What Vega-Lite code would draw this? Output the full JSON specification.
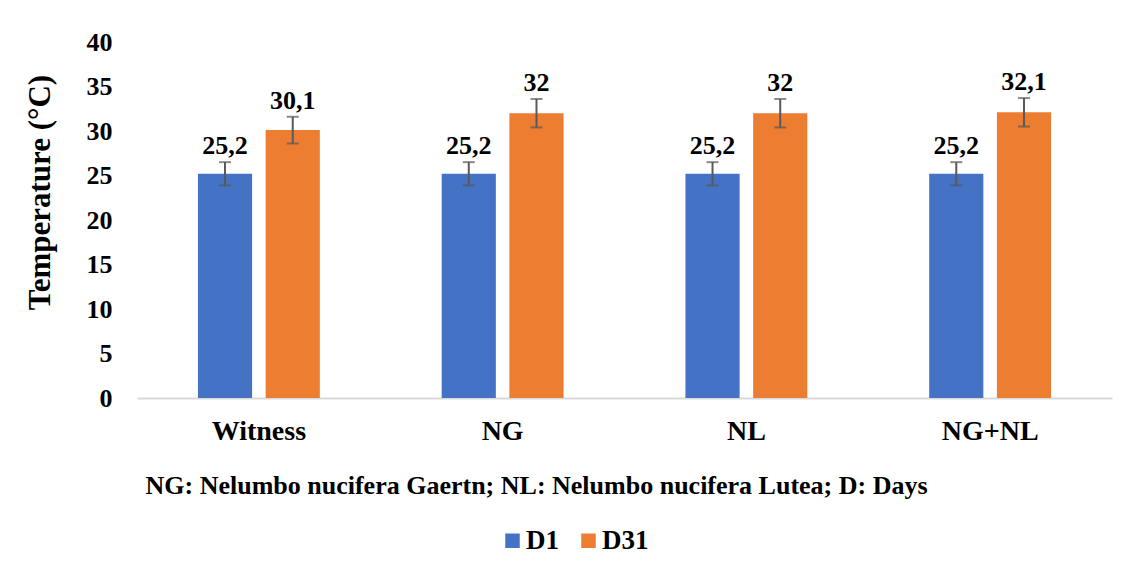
{
  "$schema": "https://vega.github.io/schema/vega-lite/v6.json",
  "width": 975,
  "height": 356,
  "autosize": "none",
  "padding": {"left": 137, "top": 42, "right": 13, "bottom": 176},
  "background": "white",
  "config": {
    "view": {"stroke": null},
    "font": "Liberation Serif"
  },
  "data": {
    "values": [
      {"group": "Witness", "day": "D1", "value": 25.2, "lo": 23.9, "hi": 26.5, "label": "25,2"},
      {"group": "Witness", "day": "D31", "value": 30.1, "lo": 28.6, "hi": 31.6, "label": "30,1"},
      {"group": "NG", "day": "D1", "value": 25.2, "lo": 23.9, "hi": 26.5, "label": "25,2"},
      {"group": "NG", "day": "D31", "value": 32, "lo": 30.4, "hi": 33.6, "label": "32"},
      {"group": "NL", "day": "D1", "value": 25.2, "lo": 23.9, "hi": 26.5, "label": "25,2"},
      {"group": "NL", "day": "D31", "value": 32, "lo": 30.4, "hi": 33.6, "label": "32"},
      {"group": "NG+NL", "day": "D1", "value": 25.2, "lo": 23.9, "hi": 26.5, "label": "25,2"},
      {"group": "NG+NL", "day": "D31", "value": 32.1, "lo": 30.5, "hi": 33.7, "label": "32,1"}
    ]
  },
  "encoding": {
    "x": {
      "field": "group",
      "type": "nominal",
      "sort": ["Witness", "NG", "NL", "NG+NL"],
      "scale": {"paddingInner": 0.5, "paddingOuter": 0.25},
      "axis": {
        "title": "NG: Nelumbo nucifera Gaertn; NL: Nelumbo nucifera Lutea; D: Days",
        "titleFont": "Liberation Serif",
        "titleFontSize": 26,
        "titleFontWeight": "bold",
        "titleColor": "black",
        "titleAnchor": "start",
        "titleAlign": "left",
        "titleX": 8,
        "titlePadding": 27,
        "labelAngle": 0,
        "labelFont": "Liberation Serif",
        "labelFontSize": 28,
        "labelFontWeight": "bold",
        "labelColor": "black",
        "labelPadding": 19,
        "ticks": false,
        "domainColor": "#d9d9d9",
        "domainWidth": 2,
        "grid": false
      }
    },
    "xOffset": {
      "field": "day",
      "type": "nominal",
      "scale": {"paddingInner": 0.2}
    }
  },
  "layer": [
    {
      "mark": {"type": "bar"},
      "encoding": {
        "y": {
          "field": "value",
          "type": "quantitative",
          "scale": {"domain": [0, 40], "nice": false},
          "axis": {
            "title": "Temperature (°C)",
            "titleFont": "Liberation Serif",
            "titleFontSize": 31,
            "titleFontWeight": "bold",
            "titleColor": "black",
            "titlePadding": 30,
            "titleY": 150,
            "values": [0, 5, 10, 15, 20, 25, 30, 35, 40],
            "labelFont": "Liberation Serif",
            "labelFontSize": 26,
            "labelFontWeight": "bold",
            "labelColor": "black",
            "labelPadding": 25,
            "ticks": false,
            "domain": false,
            "grid": false
          }
        },
        "color": {
          "field": "day",
          "type": "nominal",
          "scale": {"domain": ["D1", "D31"], "range": ["#4472C4", "#ED7D31"]},
          "legend": {
            "title": null,
            "orient": "none",
            "direction": "horizontal",
            "legendX": 362,
            "legendY": 485,
            "symbolType": "square",
            "symbolSize": 210,
            "symbolStrokeWidth": 0,
            "labelFont": "Liberation Serif",
            "labelFontSize": 27,
            "labelFontWeight": "bold",
            "labelColor": "black",
            "labelOffset": 0,
            "columnPadding": 16
          }
        }
      }
    },
    {
      "mark": {"type": "rule", "color": "#595959", "strokeWidth": 2},
      "encoding": {
        "y": {"field": "lo", "type": "quantitative"},
        "y2": {"field": "hi"}
      }
    },
    {
      "mark": {"type": "tick", "color": "#595959", "size": 12, "thickness": 2},
      "encoding": {
        "y": {"field": "lo", "type": "quantitative"}
      }
    },
    {
      "mark": {"type": "tick", "color": "#595959", "size": 12, "thickness": 2},
      "encoding": {
        "y": {"field": "hi", "type": "quantitative"}
      }
    },
    {
      "mark": {"type": "text", "baseline": "bottom", "dy": -3, "font": "Liberation Serif", "fontSize": 26, "fontWeight": "bold", "color": "black"},
      "encoding": {
        "y": {"field": "hi", "type": "quantitative"},
        "text": {"field": "label"}
      }
    }
  ]
}
